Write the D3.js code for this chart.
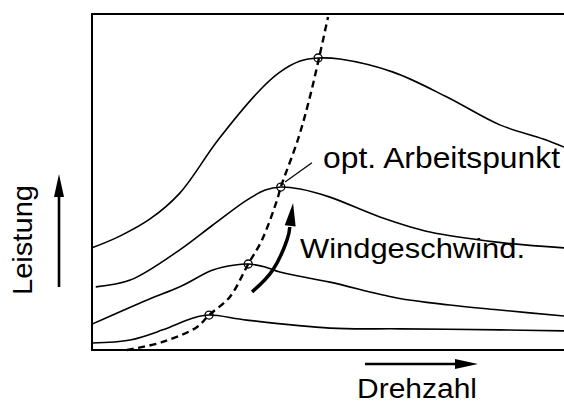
<!DOCTYPE html>
<html>
<head>
<meta charset="utf-8">
<script src="https://cdn.jsdelivr.net/npm/d3@7"></script>
<style>
  html, body { margin: 0; padding: 0; background: #fff; }
  svg { display: block; }
  text { font-family: "Liberation Sans", Arial, Helvetica, sans-serif; fill: #000; }
</style>
</head>
<body>
<svg id="chart" width="564" height="405"></svg>
<script>
// Power curves P(n) for four wind speeds (normalised: speed and power in % of range)
const curveLow = [[0,2.1],[8.1,3.0],[15.0,6.0],[21.4,9.5],[24.8,10.4],[32.8,8.9],[50.4,6.5],[65.3,6.3],[86.4,6.0],[100,5.7]];
const curveMidLow = [[0,7.7],[11.7,14.9],[18.6,18.8],[25.6,23.8],[30.3,25.3],[33.1,25.6],[36.7,24.7],[39.8,23.2],[50.4,20.2],[64.6,15.5],[75.8,13.4],[86.4,11.9],[100,10.1]];
const curveMidHigh = [[0.8,18.8],[8.1,20.8],[18.6,29.8],[25.6,37.2],[32.8,44.6],[36.7,47.6],[40.0,48.5],[44.1,47.9],[50.4,45.5],[61.0,39.6],[71.6,35.1],[85.8,32.1],[100,30.4]];
const curveHigh = [[0,30.4],[5.9,33.9],[12.3,39.0],[18.6,46.7],[26.7,62.5],[35.6,77.4],[39.8,82.7],[44.1,86.0],[47.9,86.9],[52.5,86.6],[63.8,82.7],[75.2,75.3],[86.4,67.0],[95.6,62.8],[100,60.4]];
const powerCurves = [curveLow, curveMidLow, curveMidHigh, curveHigh];

// Locus of the optimum operating points (maximum power point tracking curve)
const optimumLocus = [[7.4,0],[15.0,2.4],[22.2,6.8],[24.8,10.4],[29.2,15.8],[33.1,25.6],[36.0,32.7],[39.2,44.6],[40.0,48.5],[43.6,62.5],[46.0,74.4],[48.1,86.9],[50.0,99.1]];
const optimumPoints = [[24.8,10.4],[33.1,25.6],[40.0,48.5],[47.9,86.9]];

// Curved arrow for rising wind speed, and the leader line to the label
const windArrow = [[33.9,17.3],[38.3,23.8],[41.3,32.7],[41.9,36.6]];
const windArrowTip = [42.6,43.75];
const leader = [[40.9,50.0],[46.6,55.7]];

const labels = {
  optimum: "opt. Arbeitspunkt",
  wind: "Windgeschwind.",
  xLabel: "Drehzahl",
  yLabel: "Leistung"
};

const svg = d3.select("#chart");
const margin = {left: 92, top: 14, bottom: 350, right: 564};

const x = d3.scaleLinear().domain([0, 100]).range([margin.left, margin.right]);
const y = d3.scaleLinear().domain([0, 100]).range([margin.bottom, margin.top]);

const line = d3.line().x(d => x(d[0])).y(d => y(d[1])).curve(d3.curveCatmullRom.alpha(0.5));

// Frame (open at the right edge)
svg.append("path")
  .attr("d", `M${margin.right + 5},${y(100)} H${x(0)} V${y(0)} H${margin.right + 5}`)
  .attr("fill", "none").attr("stroke", "#000").attr("stroke-width", 2);

// Power curves
svg.append("g").selectAll("path").data(powerCurves).join("path")
  .attr("d", line)
  .attr("fill", "none").attr("stroke", "#000").attr("stroke-width", 1.6);

// Optimum locus, dashed
svg.append("path").datum(optimumLocus)
  .attr("d", d3.line().x(d => x(d[0])).y(d => y(d[1])).curve(d3.curveCatmullRom.alpha(0.5)))
  .attr("fill", "none").attr("stroke", "#000").attr("stroke-width", 2.4)
  .attr("stroke-dasharray", "7,4.5");

// Optimum markers
svg.append("g").selectAll("circle").data(optimumPoints).join("circle")
  .attr("cx", d => x(d[0])).attr("cy", d => y(d[1])).attr("r", 4)
  .attr("fill", "none").attr("stroke", "#000").attr("stroke-width", 1.3);

// Leader line
svg.append("line")
  .attr("x1", x(leader[0][0])).attr("y1", y(leader[0][1]))
  .attr("x2", x(leader[1][0])).attr("y2", y(leader[1][1]))
  .attr("stroke", "#000").attr("stroke-width", 1.2);

// Wind speed arrow: curved shaft plus a filled head along the last segment
svg.append("path").datum(windArrow)
  .attr("d", d3.line().x(d => x(d[0])).y(d => y(d[1])).curve(d3.curveNatural))
  .attr("fill", "none").attr("stroke", "#000").attr("stroke-width", 3.5);

function arrowHead(tip, from, len, half) {
  const dx = tip[0] - from[0], dy = tip[1] - from[1];
  const l = Math.hypot(dx, dy), ux = dx / l, uy = dy / l;
  const bx = tip[0] - ux * len, by = tip[1] - uy * len;
  return `M${tip[0]},${tip[1]} L${bx - uy * half},${by + ux * half} L${bx + uy * half},${by - ux * half} Z`;
}
const shaftEnd = windArrow[windArrow.length - 1];
svg.append("path")
  .attr("d", arrowHead([x(windArrowTip[0]), y(windArrowTip[1])], [x(shaftEnd[0]) - 0.5, y(shaftEnd[1]) + 6], 23, 5.5))
  .attr("fill", "#000");

// Labels inside the plot
svg.append("text").attr("x", 323).attr("y", 168)
  .attr("font-size", 29).attr("textLength", 237).attr("lengthAdjust", "spacingAndGlyphs")
  .text(labels.optimum);
svg.append("text").attr("x", 300).attr("y", 258)
  .attr("font-size", 28).attr("textLength", 225).attr("lengthAdjust", "spacingAndGlyphs")
  .text(labels.wind);

// Axis direction arrows and titles
svg.append("line").attr("x1", 365).attr("y1", 364).attr("x2", 460).attr("y2", 364)
  .attr("stroke", "#000").attr("stroke-width", 2.6);
svg.append("path").attr("d", arrowHead([478, 364], [365, 364], 23, 5)).attr("fill", "#000");
svg.append("text").attr("x", 357).attr("y", 398)
  .attr("font-size", 27).attr("textLength", 120).attr("lengthAdjust", "spacingAndGlyphs")
  .text(labels.xLabel);

svg.append("line").attr("x1", 59).attr("y1", 287).attr("x2", 59).attr("y2", 192)
  .attr("stroke", "#000").attr("stroke-width", 2.6);
svg.append("path").attr("d", arrowHead([59, 174], [59, 287], 23, 5)).attr("fill", "#000");
svg.append("text").attr("transform", "translate(32,295) rotate(-90)")
  .attr("font-size", 28).attr("textLength", 110).attr("lengthAdjust", "spacingAndGlyphs")
  .text(labels.yLabel);
</script>
</body>
</html>
